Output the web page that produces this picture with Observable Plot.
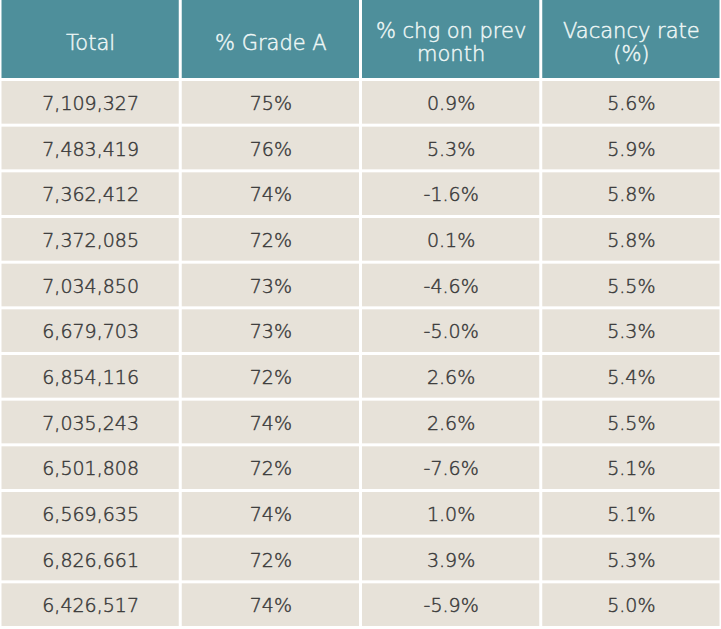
<!DOCTYPE html>
<html>
<head>
<meta charset="utf-8">
<script src="https://cdn.jsdelivr.net/npm/d3@7"></script>
<script src="https://cdn.jsdelivr.net/npm/@observablehq/plot@0.6"></script>
<style>
  html, body { margin: 0; padding: 0; background: #ffffff; }
  #chart svg { display: block; }
</style>
</head>
<body>
<div id="chart"></div>
<script>
const columns = ["Total", "% Grade A", "% chg on prev month", "Vacancy rate (%)"];
const headerLabels = ["Total", "% Grade A", "% chg on prev\nmonth", "Vacancy rate\n(%)"];
const total = [7109327, 7483419, 7362412, 7372085, 7034850, 6679703, 6854116, 7035243, 6501808, 6569635, 6826661, 6426517];
const gradeA = [75, 76, 74, 72, 73, 73, 72, 74, 72, 74, 72, 74];
const chgPrevMonth = [0.9, 5.3, -1.6, 0.1, -4.6, -5.0, 2.6, 2.6, -7.6, 1.0, 3.9, -5.9];
const vacancyRate = [5.6, 5.9, 5.8, 5.8, 5.5, 5.3, 5.4, 5.5, 5.1, 5.1, 5.3, 5.0];

const fmtInt = d3.format(",");
const rows = d3.range(total.length);
const cells = [];
rows.forEach(i => {
  cells.push({row: i, col: columns[0], label: fmtInt(total[i])});
  cells.push({row: i, col: columns[1], label: gradeA[i] + "%"});
  cells.push({row: i, col: columns[2], label: chgPrevMonth[i].toFixed(1) + "%"});
  cells.push({row: i, col: columns[3], label: vacancyRate[i].toFixed(1) + "%"});
});
const header = columns.map((c, j) => ({col: c, label: headerLabels[j]}));

const font = "'DejaVu Sans', sans-serif";

const headerPlot = Plot.plot({
  width: 721,
  height: 81,
  margin: 0,
  style: {background: "#ffffff", fontFamily: font},
  x: {domain: columns, padding: 0, round: false, axis: null},
  marks: [
    Plot.cell(header, {x: "col", fill: "#4e8f9b", insetLeft: 1.5, insetRight: 1.5, insetBottom: 3}),
    Plot.text(header, {x: "col", frameAnchor: "middle", dy: 1, text: "label", fill: "#eef7f6", stroke: "#eef7f6", strokeWidth: 0.45, fontSize: 21, fontWeight: 300, lineHeight: 1.12})
  ]
});

const bodyPlot = Plot.plot({
  width: 721,
  height: 548,
  margin: 0,
  style: {background: "#ffffff", fontFamily: font},
  x: {domain: columns, padding: 0, round: false, axis: null},
  y: {domain: rows, padding: 0, round: false, axis: null},
  marks: [
    Plot.cell(cells, {x: "col", y: "row", fill: "#e7e2d9", insetLeft: 1.5, insetRight: 1.5, insetBottom: 3}),
    Plot.text(cells, {x: "col", y: "row", dy: -0.5, text: "label", fill: "#3a3a3a", stroke: "#3a3a3a", strokeWidth: 0.45, fontSize: 19, fontWeight: 300})
  ]
});

const chart = document.getElementById("chart");
chart.appendChild(headerPlot);
chart.appendChild(bodyPlot);
</script>
</body>
</html>
